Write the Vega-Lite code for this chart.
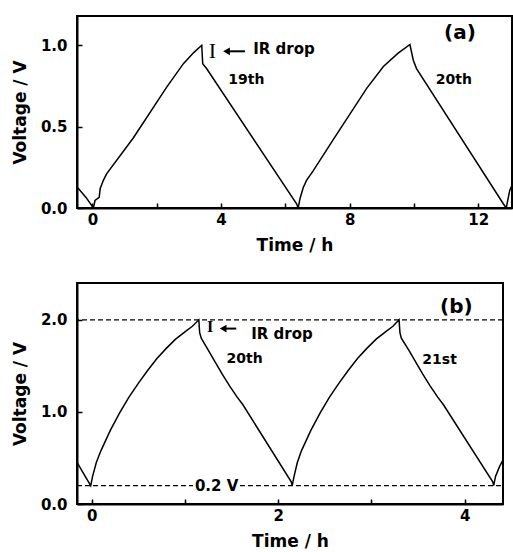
{
  "$schema": "https://vega.github.io/schema/vega-lite/v6.json",
  "padding": {"left": 10, "top": 15, "right": 0, "bottom": 0},
  "spacing": 28,
  "config": {
    "font": "DejaVu Sans",
    "view": {"stroke": "black", "strokeWidth": 2},
    "axis": {
      "grid": false,
      "domain": true,
      "domainColor": "black",
      "domainWidth": 2,
      "tickColor": "black",
      "tickWidth": 1.5,
      "tickSize": -5,
      "labelFont": "DejaVu Sans",
      "labelFontWeight": "bold",
      "labelFontSize": 15,
      "labelColor": "black",
      "titleFont": "DejaVu Sans",
      "titleFontWeight": "bold",
      "titleFontSize": 17,
      "titleColor": "black"
    }
  },
  "datasets": {
    "a": [
      {"t": -0.47, "v": 0.128}, {"t": -0.2, "v": 0.065}, {"t": 0.03, "v": 0.0}, {"t": 0.08, "v": 0.046},
      {"t": 0.21, "v": 0.066}, {"t": 0.24, "v": 0.118}, {"t": 0.34, "v": 0.17}, {"t": 0.44, "v": 0.21},
      {"t": 1.27, "v": 0.43}, {"t": 2.31, "v": 0.743}, {"t": 2.83, "v": 0.887}, {"t": 3.15, "v": 0.955},
      {"t": 3.40, "v": 1.0}, {"t": 3.43, "v": 0.887}, {"t": 3.55, "v": 0.857}, {"t": 6.35, "v": 0.026},
      {"t": 6.40, "v": 0.0}, {"t": 6.455, "v": 0.057}, {"t": 6.56, "v": 0.128}, {"t": 6.66, "v": 0.17},
      {"t": 6.87, "v": 0.23}, {"t": 7.49, "v": 0.42}, {"t": 8.53, "v": 0.735}, {"t": 9.05, "v": 0.87},
      {"t": 9.5, "v": 0.95}, {"t": 9.875, "v": 1.005}, {"t": 9.98, "v": 0.908}, {"t": 10.08, "v": 0.857},
      {"t": 12.78, "v": 0.026}, {"t": 12.87, "v": 0.0}, {"t": 12.98, "v": 0.108}, {"t": 13.05, "v": 0.14}
    ],
    "b": [
      {"t": -0.158, "v": 0.454}, {"t": -0.08, "v": 0.32}, {"t": -0.01, "v": 0.2}, {"t": 0.01, "v": 0.30},
      {"t": 0.05, "v": 0.45}, {"t": 0.1, "v": 0.58}, {"t": 0.2, "v": 0.80}, {"t": 0.3, "v": 0.99},
      {"t": 0.4, "v": 1.16}, {"t": 0.5, "v": 1.31}, {"t": 0.6, "v": 1.45}, {"t": 0.7, "v": 1.58},
      {"t": 0.8, "v": 1.69}, {"t": 0.9, "v": 1.79}, {"t": 1.0, "v": 1.87}, {"t": 1.08, "v": 1.93},
      {"t": 1.149, "v": 2.0}, {"t": 1.158, "v": 1.86}, {"t": 1.175, "v": 1.80}, {"t": 1.25, "v": 1.67},
      {"t": 1.32, "v": 1.55}, {"t": 1.40, "v": 1.41}, {"t": 1.48, "v": 1.28}, {"t": 1.56, "v": 1.16},
      {"t": 1.62, "v": 1.08}, {"t": 2.14, "v": 0.24}, {"t": 2.15, "v": 0.2}, {"t": 2.17, "v": 0.30},
      {"t": 2.205, "v": 0.45}, {"t": 2.25, "v": 0.58}, {"t": 2.35, "v": 0.80}, {"t": 2.45, "v": 0.99},
      {"t": 2.55, "v": 1.16}, {"t": 2.65, "v": 1.31}, {"t": 2.75, "v": 1.45}, {"t": 2.85, "v": 1.58},
      {"t": 2.95, "v": 1.69}, {"t": 3.05, "v": 1.79}, {"t": 3.15, "v": 1.87}, {"t": 3.23, "v": 1.93},
      {"t": 3.296, "v": 2.0}, {"t": 3.305, "v": 1.86}, {"t": 3.32, "v": 1.80}, {"t": 3.40, "v": 1.67},
      {"t": 3.47, "v": 1.55}, {"t": 3.55, "v": 1.41}, {"t": 3.63, "v": 1.28}, {"t": 3.71, "v": 1.16},
      {"t": 3.77, "v": 1.08}, {"t": 4.30, "v": 0.24}, {"t": 4.31, "v": 0.2}, {"t": 4.33, "v": 0.30},
      {"t": 4.37, "v": 0.40}, {"t": 4.41, "v": 0.48}
    ]
  },
  "vconcat": [
    {
      "width": 435,
      "height": 192,
      "layer": [
        {
          "data": {"name": "a"},
          "mark": {"type": "line", "color": "black", "strokeWidth": 1.5, "clip": true},
          "encoding": {
            "x": {"field": "t", "type": "quantitative", "title": "Time / h",
              "scale": {"domain": [-0.48, 13.05], "nice": false, "zero": false},
              "axis": {"values": [0, 2, 4, 6, 8, 10, 12], "format": "d", "labelExpr": "datum.value % 4 === 0 ? datum.label : ''", "labelPadding": 9, "titlePadding": 10}},
            "y": {"field": "v", "type": "quantitative", "title": "Voltage / V",
              "scale": {"domain": [0, 1.18], "nice": false},
              "axis": {"values": [0, 0.5, 1.0], "format": ".1f", "labelPadding": 15, "titlePadding": 11}}
          }
        },
        {
          "data": {"values": [
            {"t": 4.79, "v": 0.785, "label": "19th"},
            {"t": 11.24, "v": 0.785, "label": "20th"}
          ]},
          "mark": {"type": "text", "font": "DejaVu Sans", "fontWeight": "bold", "fontSize": 14, "align": "center", "baseline": "middle", "color": "black"},
          "encoding": {"x": {"field": "t", "type": "quantitative"}, "y": {"field": "v", "type": "quantitative"}, "text": {"field": "label"}}
        },
        {
          "data": {"values": [{"t": 5.0, "v": 0.975, "label": "IR  drop"}]},
          "mark": {"type": "text", "font": "DejaVu Sans", "fontWeight": "bold", "fontSize": 15, "align": "left", "baseline": "middle", "color": "black"},
          "encoding": {"x": {"field": "t", "type": "quantitative"}, "y": {"field": "v", "type": "quantitative"}, "text": {"field": "label"}}
        },
        {
          "data": {"values": [{"t": 11.43, "v": 1.074, "label": "(a)"}]},
          "mark": {"type": "text", "font": "DejaVu Sans", "fontWeight": "bold", "fontSize": 20, "align": "center", "baseline": "middle", "color": "black"},
          "encoding": {"x": {"field": "t", "type": "quantitative"}, "y": {"field": "v", "type": "quantitative"}, "text": {"field": "label"}}
        },
        {
          "data": {"values": [{"t": 3.73, "v": 0.964, "label": "I"}]},
          "mark": {"type": "text", "font": "Liberation Serif", "fontSize": 22, "align": "center", "baseline": "middle", "color": "black"},
          "encoding": {"x": {"field": "t", "type": "quantitative"}, "y": {"field": "v", "type": "quantitative"}, "text": {"field": "label"}}
        },
        {
          "data": {"values": [{"t": 4.2, "t2": 4.745, "v": 0.963}]},
          "mark": {"type": "rule", "color": "black", "strokeWidth": 2},
          "encoding": {"x": {"field": "t", "type": "quantitative"}, "x2": {"field": "t2"}, "y": {"field": "v", "type": "quantitative"}}
        },
        {
          "data": {"values": [{"t": 4.17, "v": 0.963}]},
          "mark": {"type": "point", "shape": "triangle-left", "filled": true, "color": "black", "size": 60, "opacity": 1},
          "encoding": {"x": {"field": "t", "type": "quantitative"}, "y": {"field": "v", "type": "quantitative"}}
        }
      ]
    },
    {
      "width": 426,
      "height": 221,
      "layer": [
        {
          "data": {"values": [{"v": 2.0}]},
          "mark": {"type": "rule", "color": "black", "strokeWidth": 1.2, "strokeDash": [5, 3]},
          "encoding": {"y": {"field": "v", "type": "quantitative"}}
        },
        {
          "data": {"values": [{"t": -0.157, "t2": 1.087, "v": 0.2}, {"t": 1.59, "t2": 4.41, "v": 0.2}]},
          "mark": {"type": "rule", "color": "black", "strokeWidth": 1.2, "strokeDash": [5, 3]},
          "encoding": {"x": {"field": "t", "type": "quantitative"}, "x2": {"field": "t2"}, "y": {"field": "v", "type": "quantitative"}}
        },
        {
          "data": {"name": "b"},
          "mark": {"type": "line", "color": "black", "strokeWidth": 1.5, "clip": true},
          "encoding": {
            "x": {"field": "t", "type": "quantitative", "title": "Time / h",
              "scale": {"domain": [-0.157, 4.41], "nice": false, "zero": false},
              "axis": {"values": [0, 1, 2, 3, 4], "format": "d", "labelExpr": "datum.value % 2 === 0 ? datum.label : ''", "labelPadding": 9, "titlePadding": 10}},
            "y": {"field": "v", "type": "quantitative", "title": "Voltage / V",
              "scale": {"domain": [0, 2.4], "nice": false},
              "axis": {"values": [0, 1, 2], "format": ".1f", "labelPadding": 15, "titlePadding": 11}}
          }
        },
        {
          "data": {"values": [
            {"t": 1.64, "v": 1.58, "label": "20th"},
            {"t": 3.73, "v": 1.56, "label": "21st"}
          ]},
          "mark": {"type": "text", "font": "DejaVu Sans", "fontWeight": "bold", "fontSize": 14, "align": "center", "baseline": "middle", "color": "black"},
          "encoding": {"x": {"field": "t", "type": "quantitative"}, "y": {"field": "v", "type": "quantitative"}, "text": {"field": "label"}}
        },
        {
          "data": {"values": [{"t": 1.71, "v": 1.85, "label": "IR drop"}]},
          "mark": {"type": "text", "font": "DejaVu Sans", "fontWeight": "bold", "fontSize": 15, "align": "left", "baseline": "middle", "color": "black"},
          "encoding": {"x": {"field": "t", "type": "quantitative"}, "y": {"field": "v", "type": "quantitative"}, "text": {"field": "label"}}
        },
        {
          "data": {"values": [{"t": 1.34, "v": 0.2, "label": "0.2  V"}]},
          "mark": {"type": "text", "font": "DejaVu Sans", "fontWeight": "bold", "fontSize": 15, "align": "center", "baseline": "middle", "color": "black"},
          "encoding": {"x": {"field": "t", "type": "quantitative"}, "y": {"field": "v", "type": "quantitative"}, "text": {"field": "label"}}
        },
        {
          "data": {"values": [{"t": 3.91, "v": 2.137, "label": "(b)"}]},
          "mark": {"type": "text", "font": "DejaVu Sans", "fontWeight": "bold", "fontSize": 20, "align": "center", "baseline": "middle", "color": "black"},
          "encoding": {"x": {"field": "t", "type": "quantitative"}, "y": {"field": "v", "type": "quantitative"}, "text": {"field": "label"}}
        },
        {
          "data": {"values": [{"t": 1.27, "v": 1.92, "label": "I"}]},
          "mark": {"type": "text", "font": "Liberation Serif", "fontWeight": "bold", "fontSize": 16, "align": "center", "baseline": "middle", "color": "black"},
          "encoding": {"x": {"field": "t", "type": "quantitative"}, "y": {"field": "v", "type": "quantitative"}, "text": {"field": "label"}}
        },
        {
          "data": {"values": [{"t": 1.42, "t2": 1.55, "v": 1.905}]},
          "mark": {"type": "rule", "color": "black", "strokeWidth": 2},
          "encoding": {"x": {"field": "t", "type": "quantitative"}, "x2": {"field": "t2"}, "y": {"field": "v", "type": "quantitative"}}
        },
        {
          "data": {"values": [{"t": 1.41, "v": 1.905}]},
          "mark": {"type": "point", "shape": "triangle-left", "filled": true, "color": "black", "size": 60, "opacity": 1},
          "encoding": {"x": {"field": "t", "type": "quantitative"}, "y": {"field": "v", "type": "quantitative"}}
        }
      ]
    }
  ]
}
